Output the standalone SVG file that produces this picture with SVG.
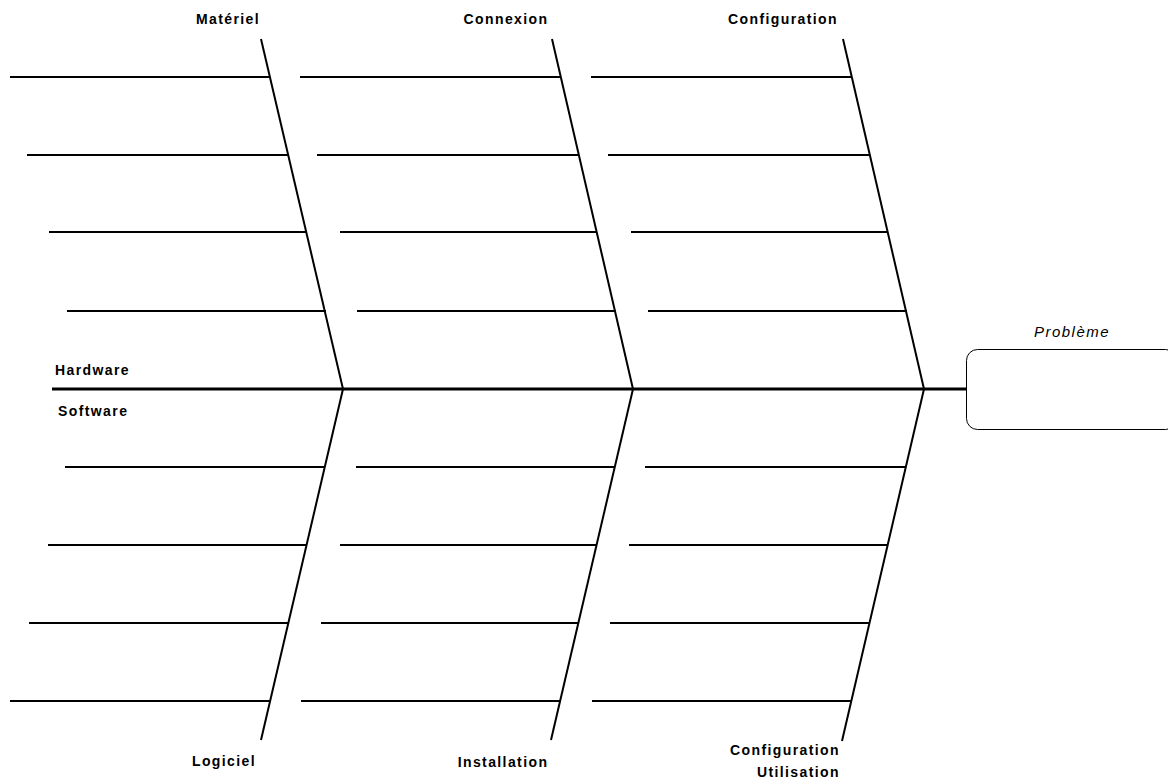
<svg xmlns="http://www.w3.org/2000/svg" width="1168" height="780" viewBox="0 0 1168 780">
  <style>
    .bg { fill: #ffffff; }
    .bone { stroke: #000; stroke-width: 2; fill: none; }
    .branch { stroke: #000; stroke-width: 2; fill: none; }
    .spine { stroke: #000; stroke-width: 3; fill: none; }
    .lbl { font-family: "Liberation Sans", Arial, sans-serif; font-size: 14px; font-weight: bold; letter-spacing: 1.4px; fill: #000; }
    .head { font-family: "Liberation Sans", Arial, sans-serif; font-size: 15px; font-style: italic; letter-spacing: 1.5px; fill: #000; }
    .box { fill: #fff; stroke: #000; stroke-width: 1; }
  </style>
  <rect class="bg" x="0" y="0" width="1168" height="780"/>

  <g id="connectors">
    <!-- main spine -->
    <line class="spine" x1="52" y1="389" x2="967" y2="389"/>
    <!-- upper bones -->
    <line class="bone" x1="261" y1="39" x2="343" y2="389"/>
    <line class="bone" x1="552" y1="39" x2="633" y2="389"/>
    <line class="bone" x1="843" y1="39" x2="924" y2="389"/>
    <!-- lower bones -->
    <line class="bone" x1="343" y1="389" x2="261" y2="740"/>
    <line class="bone" x1="633" y1="389" x2="551" y2="740"/>
    <line class="bone" x1="924" y1="389" x2="842" y2="741"/>
  </g>

  <g id="materiel">
    <text class="lbl" x="228" y="24" text-anchor="middle">Matériel</text>
    <line class="branch" x1="10" y1="77" x2="270" y2="77"/>
    <line class="branch" x1="27" y1="155" x2="288" y2="155"/>
    <line class="branch" x1="49" y1="232" x2="307" y2="232"/>
    <line class="branch" x1="67" y1="311" x2="326" y2="311"/>
  </g>

  <g id="connexion">
    <text class="lbl" x="506" y="24" text-anchor="middle">Connexion</text>
    <line class="branch" x1="300" y1="77" x2="561" y2="77"/>
    <line class="branch" x1="317" y1="155" x2="579" y2="155"/>
    <line class="branch" x1="340" y1="232" x2="597" y2="232"/>
    <line class="branch" x1="357" y1="311" x2="616" y2="311"/>
  </g>

  <g id="configuration">
    <text class="lbl" x="783" y="24" text-anchor="middle">Configuration</text>
    <line class="branch" x1="591" y1="77" x2="852" y2="77"/>
    <line class="branch" x1="608" y1="155" x2="870" y2="155"/>
    <line class="branch" x1="631" y1="232" x2="888" y2="232"/>
    <line class="branch" x1="648" y1="311" x2="907" y2="311"/>
  </g>

  <g id="logiciel">
    <text class="lbl" x="224" y="766" text-anchor="middle">Logiciel</text>
    <line class="branch" x1="65" y1="467" x2="325" y2="467"/>
    <line class="branch" x1="48" y1="545" x2="307" y2="545"/>
    <line class="branch" x1="29" y1="623" x2="289" y2="623"/>
    <line class="branch" x1="10" y1="701" x2="270" y2="701"/>
  </g>

  <g id="installation">
    <text class="lbl" x="503" y="767" text-anchor="middle">Installation</text>
    <line class="branch" x1="356" y1="467" x2="615" y2="467"/>
    <line class="branch" x1="340" y1="545" x2="597" y2="545"/>
    <line class="branch" x1="321" y1="623" x2="579" y2="623"/>
    <line class="branch" x1="301" y1="701" x2="560" y2="701"/>
  </g>

  <g id="configuration-utilisation">
    <text class="lbl" x="840" y="755" text-anchor="end">Configuration</text>
    <text class="lbl" x="840" y="777" text-anchor="end">Utilisation</text>
    <line class="branch" x1="645" y1="467" x2="906" y2="467"/>
    <line class="branch" x1="629" y1="545" x2="888" y2="545"/>
    <line class="branch" x1="610" y1="623" x2="870" y2="623"/>
    <line class="branch" x1="592" y1="701" x2="852" y2="701"/>
  </g>

  <g id="hardware">
    <text class="lbl" x="55" y="375">Hardware</text>
  </g>
  <g id="software">
    <text class="lbl" x="58" y="416">Software</text>
  </g>

  <g id="probleme">
    <rect class="box" x="966.5" y="349.5" width="210" height="80" rx="11" ry="11"/>
    <text class="head" x="1072" y="337" text-anchor="middle">Problème</text>
  </g>
</svg>
